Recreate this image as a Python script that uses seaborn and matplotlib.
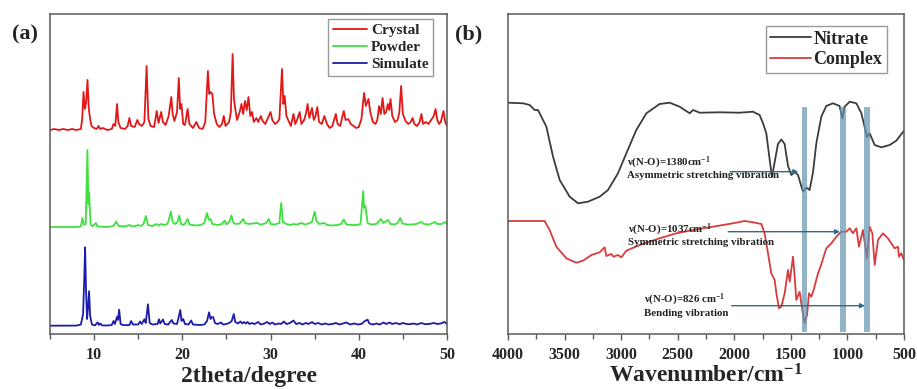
import numpy as np
import matplotlib
matplotlib.use("Agg")
import matplotlib.pyplot as plt
from matplotlib.ticker import MultipleLocator
import seaborn as sns

# ---------------- (a) XRD patterns (stacked, arbitrary units) ----------------
crystal_2theta = [5.0, 5.5, 6.0, 6.5, 7.0, 7.5, 8.0, 8.5, 8.65, 8.8, 8.95, 9.1, 9.25, 9.4, 9.55, 9.7,
                  10.0, 10.3, 10.5, 10.7, 11.0, 11.5, 12.0, 12.2, 12.4, 12.6, 12.75, 13.0, 13.5, 13.8,
                  14.0, 14.2, 14.6, 14.9, 15.1, 15.4, 15.7, 15.95, 16.15, 16.4, 16.8, 17.1, 17.3, 17.6,
                  17.8, 18.1, 18.45, 18.75, 18.9, 19.1, 19.4, 19.6, 19.75, 19.9, 20.1, 20.3, 20.6, 20.8,
                  21.2, 21.6, 21.9, 22.3, 22.6, 22.9, 23.05, 23.2, 23.4, 23.6, 23.9, 24.2, 24.5, 24.7,
                  24.9, 25.3, 25.5, 25.7, 25.85, 26.0, 26.2, 26.5, 26.7, 26.9, 27.1, 27.3, 27.5, 27.7,
                  27.9, 28.1, 28.4, 28.6, 28.9, 29.1, 29.4, 29.7, 30.0, 30.2, 30.5, 30.8, 31.0, 31.3,
                  31.45, 31.6, 31.8, 32.1, 32.3, 32.6, 32.8, 33.0, 33.3, 33.5, 33.8, 34.0, 34.2, 34.4,
                  34.7, 34.9, 35.1, 35.3, 35.5, 35.8, 36.1, 36.4, 36.7, 37.0, 37.4, 37.6, 37.9, 38.1,
                  38.3, 38.5, 38.8, 39.1, 39.4, 39.7, 40.0, 40.3, 40.6, 40.8, 41.1, 41.3, 41.6, 41.9,
                  42.1, 42.3, 42.5, 42.7, 42.9, 43.1, 43.3, 43.45, 43.6, 43.8, 44.1, 44.4, 44.6, 44.8,
                  45.0, 45.3, 45.6, 45.9, 46.1, 46.3, 46.6, 46.9, 47.1, 47.3, 47.6, 47.9, 48.2, 48.5,
                  48.7, 48.9, 49.1, 49.3, 49.6, 49.8, 50.0]
crystal_int = [204, 205, 204, 205, 204, 205, 204, 205, 215, 242, 225, 232, 254, 225, 215, 208,
               206, 205, 208, 205, 206, 204, 205, 210, 208, 230, 212, 206, 205, 208,
               216, 208, 207, 214, 210, 208, 212, 268, 215, 208, 207, 223, 211, 222,
               212, 209, 218, 237, 220, 213, 222, 256, 225, 230, 210, 209, 225, 210,
               206, 212, 206, 205, 212, 263, 240, 242, 240, 220, 210, 207, 210, 218,
               208, 212, 222, 280, 235, 225, 214, 222, 230, 220, 233, 224, 237, 218,
               222, 212, 216, 212, 218, 213, 210, 216, 222, 214, 210, 212, 215, 265,
               230, 238, 218, 212, 208, 220, 210, 214, 222, 210, 214, 220, 230, 216,
               226, 214, 218, 227, 212, 210, 218, 210, 206, 208, 220, 210, 208, 216,
               223, 214, 215, 210, 208, 206, 207, 215, 241, 228, 235, 222, 212, 210,
               214, 228, 220, 236, 220, 222, 230, 224, 235, 218, 212, 214, 222, 248,
               220, 213, 210, 212, 216, 210, 208, 212, 220, 210, 212, 210, 214, 218,
               225, 214, 210, 212, 223, 212, 208]

powder_2theta = [5.0, 6.0, 7.0, 8.0, 8.5, 8.67, 8.85, 9.05, 9.24, 9.35, 9.43, 9.6, 9.8, 10.2, 10.4,
                 11.5, 12.2, 12.5, 12.8, 13.5, 14.0, 14.3, 14.7, 15.0, 15.3, 15.6, 15.87, 16.1, 16.6,
                 17.1, 17.3, 17.6, 17.9, 18.3, 18.5, 18.7, 18.9, 19.2, 19.45, 19.66, 19.85, 20.2, 20.6,
                 20.8, 21.5, 22.1, 22.5, 22.8, 23.0, 23.2, 23.4, 24.0, 24.5, 24.8, 25.0, 25.3, 25.57,
                 25.8, 26.1, 26.5, 26.9, 27.1, 27.5, 28.0, 28.5, 28.8, 29.2, 29.5, 29.8, 30.0, 30.5,
                 31.0, 31.2, 31.4, 31.8, 32.2, 32.6, 33.0, 33.5, 33.9, 34.3, 34.7, 35.0, 35.2, 35.5,
                 36.1, 36.4, 37.0, 37.6, 38.0, 38.3, 38.6, 39.2, 39.8, 40.2, 40.5, 40.6, 40.75, 41.0,
                 41.4, 42.0, 42.5, 42.8, 43.3, 43.6, 44.1, 44.4, 44.7, 44.95, 45.5, 46.0, 46.5, 47.1,
                 47.4, 48.0, 48.6, 48.9, 49.4, 49.7, 50.0]
powder_int = [107, 107, 107, 107, 107.5, 116, 109, 110, 184, 130, 142, 110, 107.5, 111, 107.5,
              107, 108, 112.5, 108, 107.5, 109, 107.5, 108, 109, 108, 110, 118, 109, 108,
              110, 108.5, 110, 109, 110, 115, 122.5, 112, 110, 112, 118.5, 110, 109, 115,
              109.5, 108.5, 109, 111, 121, 114, 115, 110, 109, 110, 113.5, 109.5, 112, 118.5,
              111, 110, 110.5, 115, 111, 110, 110.5, 111, 109.5, 110, 111, 115, 110, 109.5,
              111, 131, 112, 110, 109, 110, 109.5, 111, 109.5, 110.5, 112, 122.5, 113, 110,
              111, 109, 108.5, 109, 110, 114.5, 109.5, 109, 109, 110, 143, 126, 128, 111,
              109.5, 110, 115, 111, 114, 110, 109.5, 111, 116, 110.5, 109.5, 109.5, 110, 112,
              110, 109.5, 112, 110, 110, 112, 110]

simulate_2theta = [5.0, 6.0, 7.0, 8.0, 8.5, 8.75, 8.9, 8.98, 9.08, 9.2, 9.3, 9.43, 9.55, 9.75, 10.1,
                   10.4, 10.55, 10.7, 10.9, 11.5, 12.0, 12.2, 12.35, 12.6, 12.7, 12.84, 13.0, 13.3,
                   14.0, 14.2, 14.4, 15.0, 15.2, 15.4, 15.7, 15.85, 16.1, 16.3, 16.6, 17.2, 17.35,
                   17.5, 17.8, 18.0, 18.4, 18.8, 19.0, 19.4, 19.77, 19.9, 20.1, 20.3, 20.7, 21.0,
                   21.2, 22.0, 22.5, 22.8, 23.03, 23.2, 23.35, 23.5, 23.7, 24.0, 24.4, 24.6, 25.0,
                   25.3, 25.6, 25.83, 26.0, 26.3, 26.6, 26.8, 27.0, 27.2, 27.4, 27.6, 27.9, 28.2,
                   28.6, 28.9, 29.3, 29.6, 29.9, 30.2, 30.5, 30.9, 31.2, 31.5, 31.8, 32.2, 32.6,
                   32.9, 33.3, 33.6, 34.0, 34.3, 34.7, 35.0, 35.4, 35.8, 36.2, 36.6, 37.0, 37.4,
                   37.8, 38.2, 38.6, 39.0, 39.5, 39.9, 40.3, 40.7, 41.0, 41.2, 41.6, 42.0, 42.4,
                   42.8, 43.1, 43.5, 43.8, 44.2, 44.6, 45.0, 45.4, 45.8, 46.2, 46.6, 47.1, 47.5,
                   48.0, 48.5, 48.9, 49.3, 49.7, 50.0]
simulate_int = [8.3, 8.3, 8.3, 8.4, 9.5, 20, 60, 86.7, 45, 15, 25, 42.7, 18, 9.5, 8.6,
                11.7, 9, 10.5, 8.6, 8.5, 9, 13, 10, 17.3, 14, 24.3, 10, 8.8,
                9, 13, 9.5, 9.5, 12.5, 10, 14.7, 11, 29.7, 11, 9.5, 10, 14.7,
                10.5, 14.5, 10, 9.5, 14, 10.5, 10, 24, 13, 15, 10, 9.5, 13.5,
                9.5, 9, 9.5, 13, 21.7, 15, 17, 16.7, 11, 10, 11.5, 9.5, 10,
                11, 13, 20, 12, 10.5, 12.5, 10.5, 12, 10.5, 12, 10, 11, 10,
                12, 9.5, 10.5, 12, 10, 11.5, 9.5, 10.5, 10, 12.5, 10, 11, 13.5,
                10, 11, 9.5, 11, 10, 12, 10, 11, 9.5, 10.5, 9.5, 10, 11,
                9.5, 10.5, 11.5, 9.5, 10.5, 9.5, 10, 13, 14.3, 10.5, 9.5, 10.5, 9.5,
                11.5, 10, 11.5, 10, 11, 9.8, 11, 10, 9.8, 10.5, 9.5, 11, 9.8,
                10, 11, 10, 10.5, 12, 10]

xrd_ticks = [10, 20, 30, 40, 50]

# ---------------- (b) FT-IR spectra (stacked, arbitrary units) ----------------
nitrate_wn = [4000, 3867, 3809, 3764, 3735, 3661, 3602, 3543, 3455, 3381, 3293, 3190, 3116, 3028,
              2954, 2866, 2777, 2660, 2571, 2483, 2394, 2365, 2306, 2129, 1953, 1835, 1776, 1746,
              1717, 1687, 1667, 1643, 1614, 1584, 1555, 1525, 1496, 1466, 1437, 1393, 1363, 1334,
              1304, 1275, 1231, 1187, 1128, 1069, 1045, 1025, 980, 921, 877, 848, 827, 804,
              759, 700, 627, 568, 500]
nitrate_t = [231.3, 230.7, 229, 224, 224, 207.3, 177.3, 154, 137.3, 130.7, 132.3, 137.3, 144, 160.7,
             180.7, 204, 220.7, 230, 231.3, 227.3, 220.7, 224, 221.3, 221.7, 221.3, 222.3, 219, 210.7,
             200.7, 174, 157, 172, 190, 194.5, 190, 168, 159, 162, 159, 142.3, 146.5, 144,
             162, 190.7, 217.3, 228, 230.7, 228, 215.7, 227.3, 232.3, 230.7, 220.7, 207.3, 197, 200.7,
             189, 186.7, 189, 193.3, 203.3]

complex_wn = [4000, 3676, 3632, 3573, 3484, 3396, 3337, 3263, 3190, 3146, 3131, 3087, 3067, 3028,
              2998, 2954, 2836, 2660, 2512, 2365, 2188, 2011, 1908, 1835, 1761, 1732, 1702, 1673,
              1643, 1628, 1605, 1584, 1555, 1525, 1510, 1481, 1466, 1452, 1422, 1399, 1378, 1357,
              1340, 1320, 1299, 1260, 1230, 1201, 1186, 1142, 1098, 1054, 1010, 980, 951, 921,
              898, 863, 827, 804, 780, 759, 730, 686, 642, 583, 554, 544, 524, 500]
complex_t = [113, 113, 104, 87.3, 75.7, 71.3, 73.3, 79, 81.7, 86.7, 78, 80, 77.3, 79,
             76.7, 83.3, 89, 95.7, 100.7, 104, 107.3, 110.7, 113, 111.7, 110, 100.7, 80.7, 60.7,
             54, 40.7, 25.7, 27.3, 40.7, 64, 52.3, 77.3, 57, 34, 42.3, 24, 10.7, 19,
             40.7, 37.3, 44, 60.7, 70, 80.7, 85.7, 90.7, 97.3, 102.3, 102.3, 105.7, 100.7, 105.7,
             87.3, 104, 75.7, 107.3, 100.7, 69, 94, 100.7, 95.7, 85.7, 87.3, 77.3, 80.7, 74]

band_centers = [1380, 1037, 826]
ir_ticks = [4000, 3500, 3000, 2500, 2000, 1500, 1000, 500]

note_lines = [("\u03bd(N-O)=1380cm$^{-1}$", "Asymmetric stretching vibration"),
              ("\u03bd(N-O)=1037cm$^{-1}$", "Symmetric stretching vibration"),
              ("\u03bd(N-O)=826 cm$^{-1}$", "Bending vibration")]
note_text_wn = [2951, 2937, 2794]
note_text_y = [171, 104, 34]
arrow_start_wn = [2038, 2053, 2023]
arrow_end_wn = [1434, 1066, 845]
arrow_y = [162.3, 102.3, 28.3]

# ---------------- style ----------------
sns.set_theme(style="ticks")
plt.rcParams["font.family"] = ["Liberation Serif", "DejaVu Serif"]
plt.rcParams["font.weight"] = "bold"
plt.rcParams["mathtext.fontset"] = "custom"
plt.rcParams["mathtext.rm"] = "Liberation Serif:bold"
plt.rcParams["mathtext.it"] = "Liberation Serif:bold:italic"
plt.rcParams["mathtext.bf"] = "Liberation Serif:bold"

SPINE = "#5a5a5a"
W, H = 917, 389
fig = plt.figure(figsize=(W / 100, H / 100), dpi=100)
ax_a = fig.add_axes([50 / W, (H - 334) / H, 397 / W, 320 / H])
ax_b = fig.add_axes([508 / W, (H - 334) / H, 396 / W, 320 / H])


def style_box(ax, ticks):
    for s in ax.spines.values():
        s.set_visible(True)
        s.set_color(SPINE)
        s.set_linewidth(1.1)
    ax.set_xticks(ticks, labels=[str(t) for t in ticks], fontweight="bold",
                  fontsize=11.5, family="Liberation Serif")
    ax.tick_params(axis="x", which="both", direction="out", bottom=True, top=False,
                   color=SPINE, width=1.0, pad=5)
    ax.tick_params(axis="x", which="major", length=4.5)
    ax.tick_params(axis="x", which="minor", length=3.5)
    ax.tick_params(axis="y", which="both", left=False, right=False, labelleft=False)


# (a) XRD
sns.lineplot(x=crystal_2theta, y=crystal_int, ax=ax_a, color="#e01818", lw=1.3,
             label="Crystal", estimator=None, sort=False)
sns.lineplot(x=powder_2theta, y=powder_int, ax=ax_a, color="#3fe03f", lw=1.3,
             label="Powder", estimator=None, sort=False)
sns.lineplot(x=simulate_2theta, y=simulate_int, ax=ax_a, color="#1c1caa", lw=1.3,
             label="Simulate", estimator=None, sort=False)
ax_a.set_xlim(5, 50)
ax_a.set_ylim(0, 320)
style_box(ax_a, xrd_ticks)
ax_a.xaxis.set_minor_locator(MultipleLocator(5))
ax_a.set_xlabel("2theta/degree", fontsize=17, fontweight="bold", labelpad=2)
ax_a.set_ylabel("")
ax_a.legend(loc="upper right", bbox_to_anchor=((433 - 50) / 397, (334 - 19) / 320),
            borderaxespad=0, frameon=True, fancybox=False, edgecolor="#9a9a9a",
            framealpha=1, handlelength=2.25, handletextpad=0.25, labelspacing=0.22,
            borderpad=0.3, prop=dict(family="Liberation Serif", weight="bold", size=11))

# (b) FT-IR
sns.lineplot(x=nitrate_wn, y=nitrate_t, ax=ax_b, color="#3c3c3c", lw=1.3,
             label="Nitrate", estimator=None, sort=False)
sns.lineplot(x=complex_wn, y=complex_t, ax=ax_b, color="#d83c3c", lw=1.3,
             label="Complex", estimator=None, sort=False)
ax_b.set_xlim(4000, 500)
ax_b.set_ylim(0, 320)
style_box(ax_b, ir_ticks)
ax_b.xaxis.set_minor_locator(MultipleLocator(250))
for c in band_centers:
    ax_b.axvspan(c - 25, c + 25, ymin=2.3 / 320, ymax=226.7 / 320,
                 color="#6294b0", alpha=0.7, lw=0, zorder=5)
for (l1, l2), tx, ty, xs, xe, ay in zip(note_lines, note_text_wn, note_text_y,
                                         arrow_start_wn, arrow_end_wn, arrow_y):
    ax_b.text(tx, ty, l1, fontsize=7.8, fontweight="bold", ha="left", va="center",
              color="#222222", zorder=6)
    ax_b.text(tx, ty - 13, l2, fontsize=7.8, fontweight="bold", ha="left", va="center",
              color="#222222", zorder=6)
    ax_b.annotate("", xy=(xe, ay), xytext=(xs, ay), zorder=6,
                  arrowprops=dict(arrowstyle="-|>", color="#2f6a8a", lw=1.0,
                                  mutation_scale=7, shrinkA=0, shrinkB=0))
ax_b.set_xlabel("Wavenumber/cm$^{-1}$", fontsize=17, fontweight="bold", labelpad=1)
ax_b.set_ylabel("")
ax_b.legend(loc="upper right", bbox_to_anchor=((887 - 508) / 396, (334 - 26) / 320),
            borderaxespad=0, frameon=True, fancybox=False, edgecolor="#9a9a9a",
            framealpha=1, handlelength=2.25, handletextpad=0.15, labelspacing=0.2,
            borderpad=0.25, prop=dict(family="Liberation Serif", weight="bold", size=13))

fig.text(12 / W, 1 - 34 / H, "(a)", fontsize=16, fontweight="bold", ha="left", va="center")
fig.text(455 / W, 1 - 34 / H, "(b)", fontsize=16, fontweight="bold", ha="left", va="center")

fig.savefig("out.png", dpi=100)
